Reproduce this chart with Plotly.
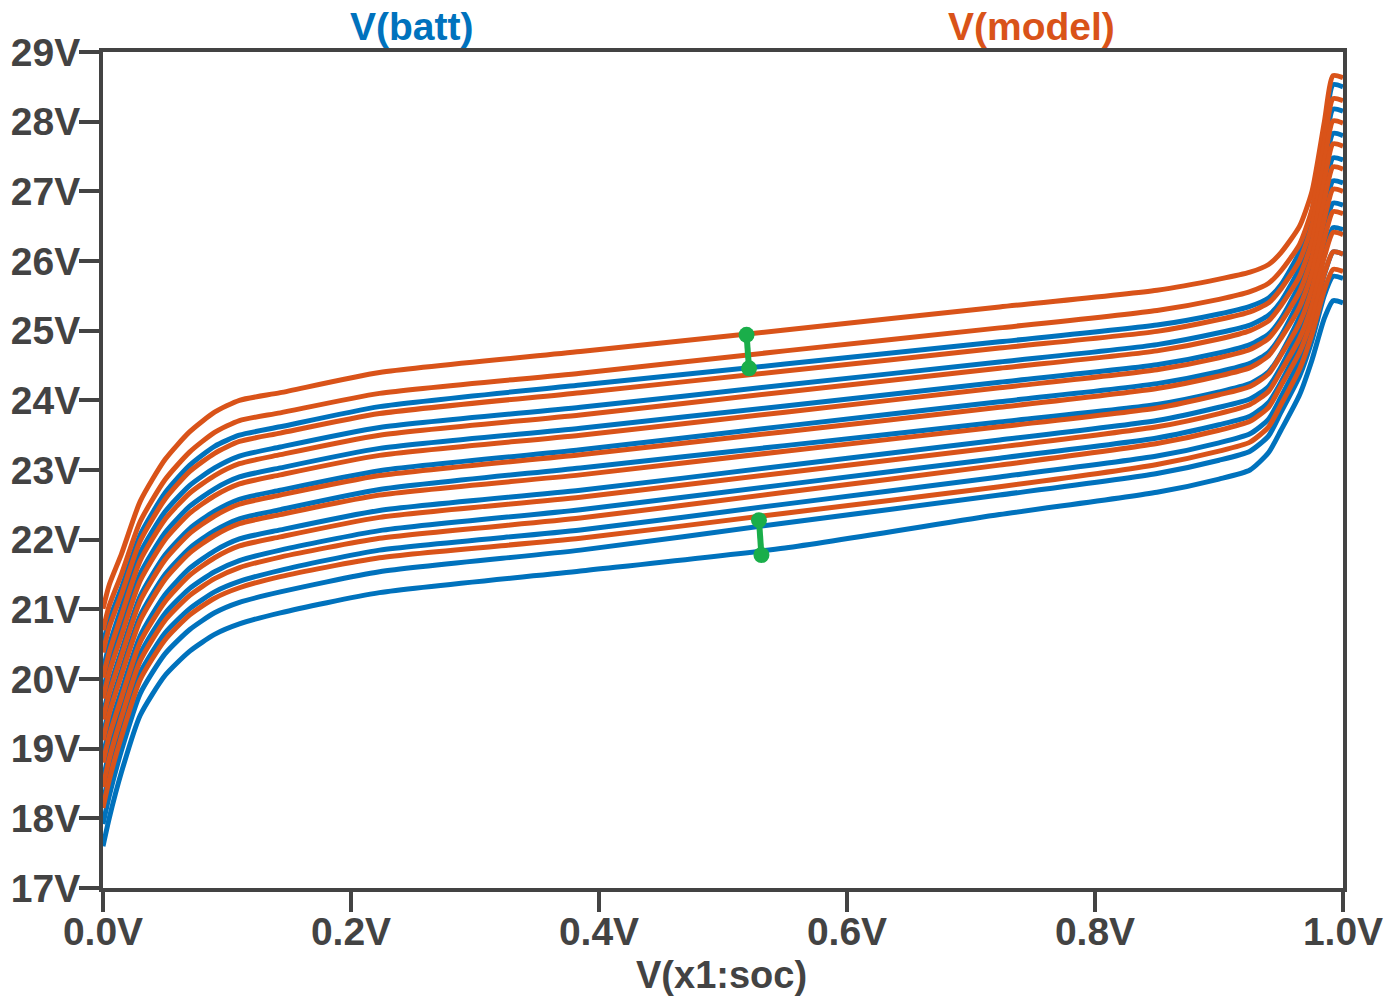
import plotly.graph_objects as go

# state-of-charge sample points (x axis, V(x1:soc))
soc = [0, 0.005, 0.015, 0.03, 0.05, 0.07, 0.09, 0.11, 0.143, 0.223, 0.385,
       0.55, 0.723, 0.85, 0.9, 0.925, 0.94, 0.95, 0.965, 0.975, 0.985, 0.992, 1.0]

# V(batt) curves (blue), top to bottom
batt_1 = [20.50, 20.85, 21.31, 22.07, 22.67, 23.07, 23.34, 23.50, 23.62, 23.91, 24.22, 24.52, 24.84, 25.08, 25.24, 25.35, 25.47, 25.66, 26.13, 26.71, 27.83, 28.53, 28.50]
batt_2 = [20.13, 20.49, 21.03, 21.81, 22.40, 22.78, 23.03, 23.20, 23.33, 23.61, 23.90, 24.22, 24.55, 24.80, 24.97, 25.08, 25.22, 25.42, 25.90, 26.49, 27.54, 28.18, 28.15]
batt_3 = [19.82, 20.19, 20.73, 21.51, 22.10, 22.48, 22.73, 22.90, 23.03, 23.31, 23.60, 23.92, 24.26, 24.51, 24.68, 24.80, 24.95, 25.17, 25.67, 26.26, 27.25, 27.83, 27.80]
batt_4 = [19.49, 19.86, 20.41, 21.19, 21.78, 22.16, 22.41, 22.58, 22.71, 22.99, 23.29, 23.63, 23.98, 24.24, 24.41, 24.53, 24.69, 24.93, 25.45, 26.02, 26.96, 27.48, 27.45]
batt_5 = [19.20, 19.57, 20.13, 20.91, 21.50, 21.88, 22.13, 22.30, 22.43, 22.72, 23.03, 23.35, 23.69, 23.94, 24.12, 24.24, 24.41, 24.67, 25.20, 25.78, 26.67, 27.15, 27.12]
batt_6 = [18.90, 19.28, 19.84, 20.62, 21.21, 21.59, 21.84, 22.01, 22.14, 22.42, 22.71, 23.06, 23.43, 23.71, 23.90, 24.02, 24.20, 24.48, 25.02, 25.58, 26.41, 26.83, 26.80]
batt_7 = [18.55, 18.95, 19.56, 20.36, 20.94, 21.30, 21.54, 21.70, 21.85, 22.13, 22.43, 22.79, 23.17, 23.46, 23.65, 23.77, 23.97, 24.26, 24.80, 25.35, 26.11, 26.48, 26.45]
batt_8 = [18.23, 18.63, 19.28, 20.09, 20.66, 21.01, 21.25, 21.40, 21.56, 21.85, 22.14, 22.51, 22.90, 23.20, 23.39, 23.52, 23.73, 24.05, 24.58, 25.11, 25.81, 26.13, 26.10]
batt_9 = [17.92, 18.32, 18.98, 19.79, 20.36, 20.71, 20.95, 21.10, 21.25, 21.54, 21.85, 22.24, 22.64, 22.95, 23.14, 23.27, 23.49, 23.83, 24.35, 24.86, 25.51, 25.78, 25.75]
batt_10 = [17.60, 18.00, 18.67, 19.48, 20.05, 20.40, 20.64, 20.79, 20.95, 21.24, 21.55, 21.88, 22.36, 22.68, 22.87, 23.00, 23.25, 23.57, 24.08, 24.58, 25.18, 25.43, 25.40]

# V(model) curves (orange), top to bottom
model_1 = [21.01, 21.35, 21.80, 22.55, 23.15, 23.55, 23.83, 24.00, 24.11, 24.40, 24.70, 25.01, 25.34, 25.58, 25.74, 25.84, 25.95, 26.12, 26.50, 27.00, 28.00, 28.66, 28.63]
model_2 = [20.70, 21.05, 21.51, 22.26, 22.86, 23.26, 23.54, 23.71, 23.82, 24.10, 24.39, 24.71, 25.04, 25.29, 25.45, 25.56, 25.68, 25.86, 26.24, 26.74, 27.71, 28.33, 28.30]
model_3 = [20.38, 20.74, 21.22, 21.98, 22.58, 22.98, 23.24, 23.41, 23.53, 23.81, 24.11, 24.42, 24.75, 24.99, 25.16, 25.27, 25.40, 25.60, 26.01, 26.51, 27.43, 28.01, 27.98]
model_4 = [20.02, 20.38, 20.92, 21.70, 22.29, 22.67, 22.92, 23.09, 23.22, 23.50, 23.79, 24.12, 24.46, 24.71, 24.88, 25.00, 25.14, 25.36, 25.78, 26.28, 27.16, 27.68, 27.65]
model_5 = [19.72, 20.09, 20.63, 21.41, 22.00, 22.38, 22.63, 22.80, 22.93, 23.21, 23.50, 23.83, 24.18, 24.44, 24.61, 24.73, 24.89, 25.12, 25.56, 26.05, 26.88, 27.35, 27.32]
model_6 = [19.42, 19.79, 20.34, 21.12, 21.71, 22.09, 22.34, 22.51, 22.64, 22.92, 23.22, 23.55, 23.90, 24.17, 24.35, 24.47, 24.64, 24.89, 25.34, 25.83, 26.60, 27.03, 27.00]
model_7 = [19.12, 19.50, 20.06, 20.84, 21.43, 21.81, 22.06, 22.23, 22.36, 22.64, 22.93, 23.27, 23.62, 23.89, 24.08, 24.20, 24.38, 24.65, 25.11, 25.60, 26.32, 26.71, 26.68]
model_8 = [18.80, 19.18, 19.74, 20.53, 21.11, 21.49, 21.74, 21.91, 22.04, 22.32, 22.61, 22.96, 23.33, 23.62, 23.81, 23.94, 24.13, 24.42, 24.89, 25.37, 26.06, 26.41, 26.38]
model_9 = [18.45, 18.85, 19.46, 20.26, 20.84, 21.20, 21.44, 21.60, 21.75, 22.02, 22.31, 22.68, 23.07, 23.38, 23.57, 23.70, 23.90, 24.21, 24.69, 25.17, 25.82, 26.13, 26.10]
model_10 = [18.15, 18.55, 19.18, 19.99, 20.56, 20.92, 21.16, 21.31, 21.47, 21.74, 22.02, 22.38, 22.76, 23.08, 23.27, 23.40, 23.62, 23.94, 24.45, 24.95, 25.59, 25.88, 25.85]

batt_curves = [batt_1, batt_2, batt_3, batt_4, batt_5, batt_6, batt_7, batt_8, batt_9, batt_10]
model_curves = [model_1, model_2, model_3, model_4, model_5, model_6, model_7, model_8, model_9, model_10]

# cursor markers (green)
cursor1_soc = [0.519, 0.521]
cursor1_v = [24.94, 24.46]
cursor2_soc = [0.529, 0.531]
cursor2_v = [22.28, 21.78]

y_tickvals = [17, 18, 19, 20, 21, 22, 23, 24, 25, 26, 27, 28, 29]
y_ticktext = ["17V", "18V", "19V", "20V", "21V", "22V", "23V", "24V", "25V", "26V", "27V", "28V", "29V"]
x_tickvals = [0.0, 0.2, 0.4, 0.6, 0.8, 1.0]
x_ticktext = ["0.0V", "0.2V", "0.4V", "0.6V", "0.8V", "1.0V"]

BLUE = "#0072BD"
ORANGE = "#D95319"
GREEN = "#1AAE4A"
GRAY = "#434343"
FONT = "Liberation Sans"

fig = go.Figure()
for c in batt_curves:
    fig.add_trace(go.Scatter(x=soc, y=c, mode="lines",
                             line=dict(color=BLUE, width=5, shape="spline", smoothing=0.6),
                             hoverinfo="skip"))
for c in model_curves:
    fig.add_trace(go.Scatter(x=soc, y=c, mode="lines",
                             line=dict(color=ORANGE, width=5, shape="spline", smoothing=0.6),
                             hoverinfo="skip"))
for cx, cy in [(cursor1_soc, cursor1_v), (cursor2_soc, cursor2_v)]:
    fig.add_trace(go.Scatter(x=cx, y=cy, mode="lines+markers",
                             line=dict(color=GREEN, width=6),
                             marker=dict(color=GREEN, size=16),
                             hoverinfo="skip"))

tickfont = dict(family=FONT, size=39, color=GRAY, weight="bold")
fig.update_layout(
    width=1390, height=996,
    margin=dict(l=103, r=47, t=52, b=108),
    paper_bgcolor="white", plot_bgcolor="white",
    showlegend=False,
    xaxis=dict(range=[0, 1], tickvals=x_tickvals, ticktext=x_ticktext,
               showgrid=False, zeroline=False, showline=True, mirror=True,
               linecolor=GRAY, linewidth=4, ticks="outside", ticklen=20,
               tickwidth=4, tickcolor=GRAY, tickfont=tickfont,
               automargin=False, ticklabelstandoff=-14),
    yaxis=dict(range=[17, 29], tickvals=y_tickvals, ticktext=y_ticktext,
               showgrid=False, zeroline=False, showline=True, mirror=True,
               linecolor=GRAY, linewidth=4, ticks="outside", ticklen=20,
               tickwidth=4, tickcolor=GRAY, tickfont=tickfont,
               automargin=False, ticklabelstandoff=-9),
    annotations=[
        dict(text="V(batt)", x=0.249, y=1.03, xref="paper", yref="paper",
             xanchor="center", yanchor="middle", showarrow=False,
             font=dict(family=FONT, size=39, color=BLUE, weight="bold")),
        dict(text="V(model)", x=0.749, y=1.03, xref="paper", yref="paper",
             xanchor="center", yanchor="middle", showarrow=False,
             font=dict(family=FONT, size=39, color=ORANGE, weight="bold")),
        dict(text="V(x1:soc)", x=0.499, y=-0.104, xref="paper", yref="paper",
             xanchor="center", yanchor="middle", showarrow=False,
             font=dict(family=FONT, size=38, color=GRAY, weight="bold")),
    ],
)
fig.write_html("out.html")
